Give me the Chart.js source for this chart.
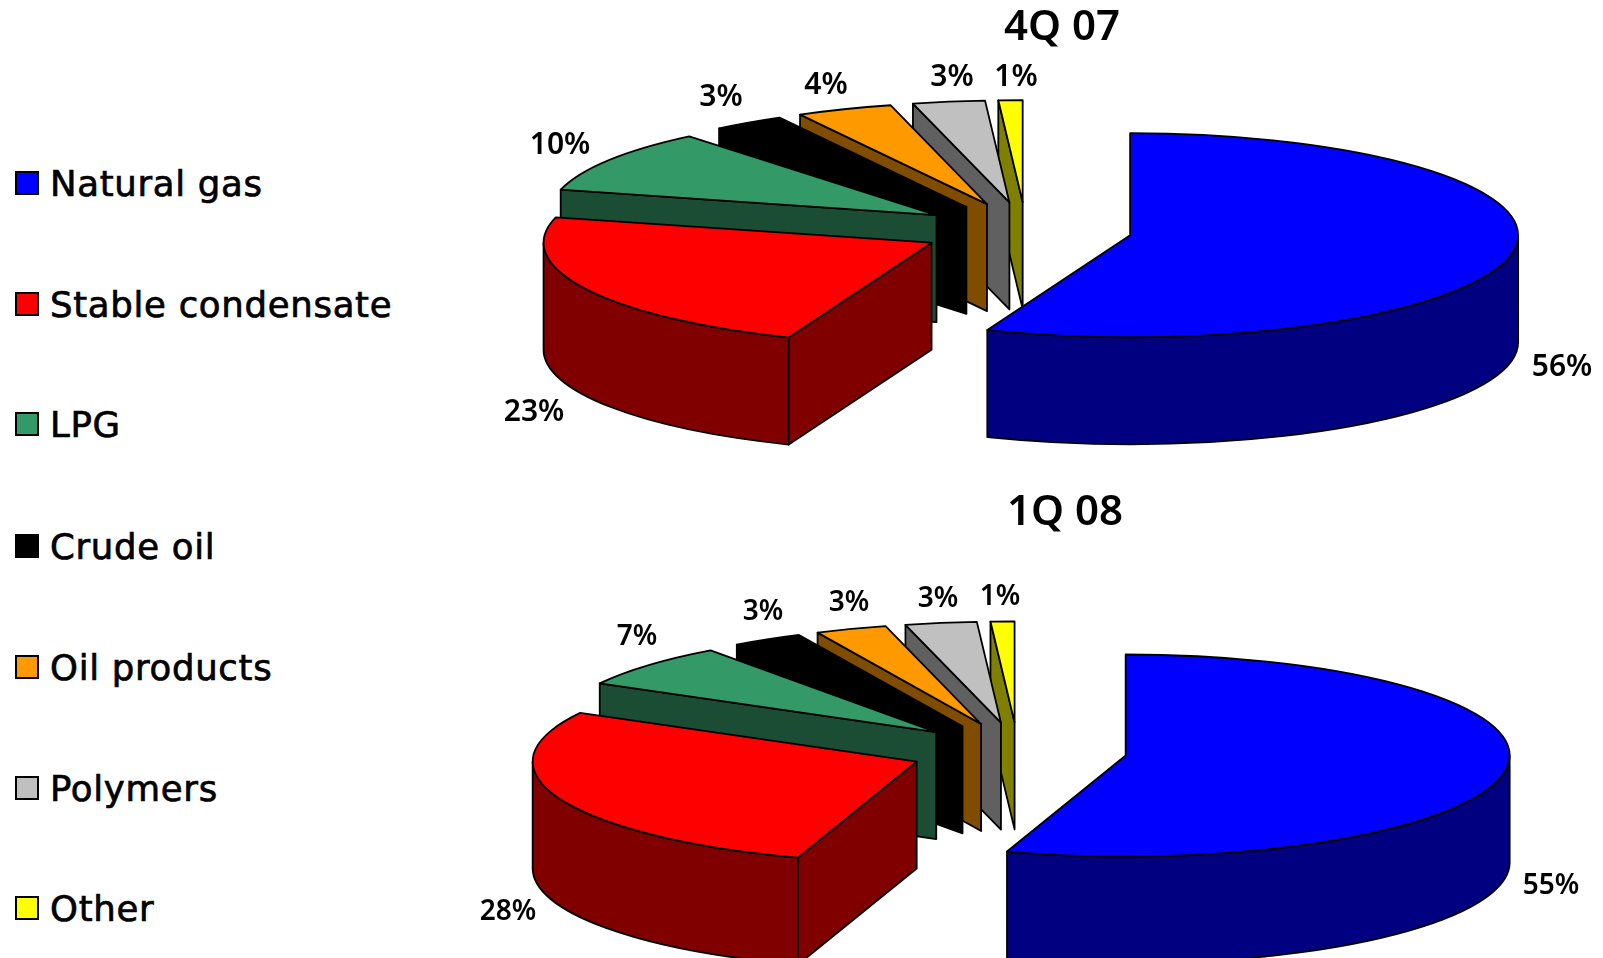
<!DOCTYPE html>
<html>
<head>
<meta charset="utf-8">
<title>Sales structure</title>
<script src="https://cdn.jsdelivr.net/npm/chart.js@4"></script>
<style>
  html, body { margin: 0; height: 100%; background: #fff; overflow: hidden; }
  canvas { position: absolute; }
  #legend { position: absolute; left: 0; top: 0; }
  .legend-item { position: absolute; left: 15px; display: flex; align-items: center; white-space: nowrap;
    height: 40px; font: 35.5px "DejaVu Sans", sans-serif; letter-spacing: 0.7px; -webkit-text-stroke: 0.7px #000; color: #000; }
  .legend-box { width: 20px; height: 20px; border: 2px solid #000; margin-right: 11px; flex: none; }
</style>
</head>
<body>
<div id="legend"></div>
<canvas id="chart4q07"></canvas>
<canvas id="chart1q08"></canvas>
<script>
// Categories and shares, in percent
const categories = ['Natural gas', 'Stable condensate', 'LPG', 'Crude oil', 'Oil products', 'Polymers', 'Other'];
const values4Q07 = [56, 23, 10, 3, 4, 3, 1];
const values1Q08 = [55, 28, 7, 3, 3, 3, 1];

// Face and wall colours per category
const faceColors = ['#0000FF', '#FF0000', '#339966', '#000000', '#FF9900', '#C0C0C0', '#FFFF00'];
const wallColors = ['#000080', '#800000', '#1A4D33', '#000000', '#804D00', '#606060', '#808000'];

// Value label centres on the page
const labelSpots4Q07 = [[1562, 367], [534, 412], [560, 145], [721, 97], [826, 85], [952, 77], [1016, 77]];
const labelSpots1Q08 = [[1551, 886], [508, 912], [637, 637], [763, 612], [849, 603], [938, 599], [1000, 597]];

// Legend row centres on the page
const legendRows = [183, 304, 424, 546, 667, 788, 908];

const labelFont = '"Noto Sans", sans-serif';

/**
 * Draws the doughnut arcs as an exploded pie seen from above: each arc's
 * top face goes through arc.draw() under a vertical squash, the walls are
 * built from the angles and radius the controller computed.
 */
const tiltedPie = {
  id: 'tiltedPie',
  beforeDatasetsDraw(chart, args, opts) {
    const ctx = chart.ctx;
    const arcs = chart.getDatasetMeta(0).data;
    const cx = opts.centerX - opts.left;
    const cy = opts.centerY - opts.top;
    const s = opts.squash;

    for (let i = arcs.length - 1; i >= 0; i--) {
      const arc = arcs[i];
      const r = arc.outerRadius;
      const start = arc.startAngle;
      const end = arc.endAngle;
      const mid = (start + end) / 2;
      const px = cx + Math.cos(mid) * opts.explode;
      const py = cy + Math.sin(mid) * opts.explode * s;

      ctx.save();
      ctx.lineWidth = 1.8;
      ctx.lineJoin = 'round';
      ctx.strokeStyle = '#000';
      ctx.fillStyle = wallColors[i];

      // curved wall, only the part facing the viewer
      const from = Math.max(start, 0);
      const to = Math.min(end, Math.PI);
      if (to > from) {
        ctx.beginPath();
        ctx.ellipse(px, py, r, r * s, 0, from, to);
        ctx.ellipse(px, py + opts.depth, r, r * s, 0, to, from, true);
        ctx.closePath();
        ctx.fill();
        ctx.stroke();
      }

      // flat walls along the cut edges
      const drawCut = (angle) => {
        const ex = px + Math.cos(angle) * r;
        const ey = py + Math.sin(angle) * r * s;
        ctx.beginPath();
        ctx.moveTo(px, py);
        ctx.lineTo(ex, ey);
        ctx.lineTo(ex, ey + opts.depth);
        ctx.lineTo(px, py + opts.depth);
        ctx.closePath();
        ctx.fill();
        ctx.stroke();
      };
      if (Math.cos(start) < -1e-6) drawCut(start);
      if (Math.cos(end) > 1e-6) drawCut(end);

      // top face
      ctx.save();
      ctx.translate(px, py);
      ctx.scale(1, s);
      ctx.translate(-arc.x, -arc.y);
      arc.draw(ctx);
      ctx.restore();

      ctx.beginPath();
      ctx.moveTo(px, py);
      ctx.ellipse(px, py, r, r * s, 0, start, end);
      ctx.closePath();
      ctx.stroke();
      ctx.restore();
    }

    // value labels
    const values = chart.data.datasets[0].data;
    ctx.save();
    ctx.fillStyle = '#000';
    ctx.font = '600 ' + opts.labelSize + 'px ' + labelFont;
    ctx.textAlign = 'center';
    ctx.textBaseline = 'middle';
    values.forEach((v, i) => {
      ctx.fillText(v + '%', opts.labelSpots[i][0] - opts.left, opts.labelSpots[i][1] - opts.top);
    });
    ctx.restore();

    return false;
  }
};

function makePie(canvasId, box, title, values, pie) {
  const canvas = document.getElementById(canvasId);
  canvas.style.left = box.left + 'px';
  canvas.style.top = box.top + 'px';
  canvas.width = box.width;
  canvas.height = box.height;
  return new Chart(canvas, {
    type: 'pie',
    data: {
      labels: categories,
      datasets: [{ data: values, backgroundColor: faceColors, borderWidth: 0 }]
    },
    options: {
      responsive: false,
      animation: false,
      radius: pie.radius,
      layout: { padding: 0 },
      plugins: {
        legend: { display: false },
        tooltip: { enabled: false },
        title: {
          display: true,
          text: title,
          color: '#000',
          font: { family: labelFont, size: 42, weight: '600' },
          padding: { top: pie.titleTop, bottom: 0 }
        },
        tiltedPie: { ...pie, left: box.left, top: box.top }
      }
    },
    plugins: [tiltedPie]
  });
}

makePie('chart4q07', { left: 470, top: 0, width: 1184, height: 478 }, '4Q 07', values4Q07, {
  radius: 388, centerX: 1026, centerY: 230, squash: 0.263, explode: 106, depth: 107,
  labelSpots: labelSpots4Q07, labelSize: 30, titleTop: 3
});

makePie('chart1q08', { left: 470, top: 478, width: 1190, height: 480 }, '1Q 08', values1Q08, {
  radius: 384, centerX: 1018, centerY: 751, squash: 0.263, explode: 109, depth: 107,
  labelSpots: labelSpots1Q08, labelSize: 28, titleTop: 10
});

// Shared legend for both pies
const legend = document.getElementById('legend');
categories.forEach((name, i) => {
  const row = document.createElement('div');
  row.className = 'legend-item';
  row.style.top = (legendRows[i] - 20) + 'px';
  const box = document.createElement('span');
  box.className = 'legend-box';
  box.style.background = faceColors[i];
  row.appendChild(box);
  row.appendChild(document.createTextNode(name));
  legend.appendChild(row);
});
</script>
</body>
</html>
